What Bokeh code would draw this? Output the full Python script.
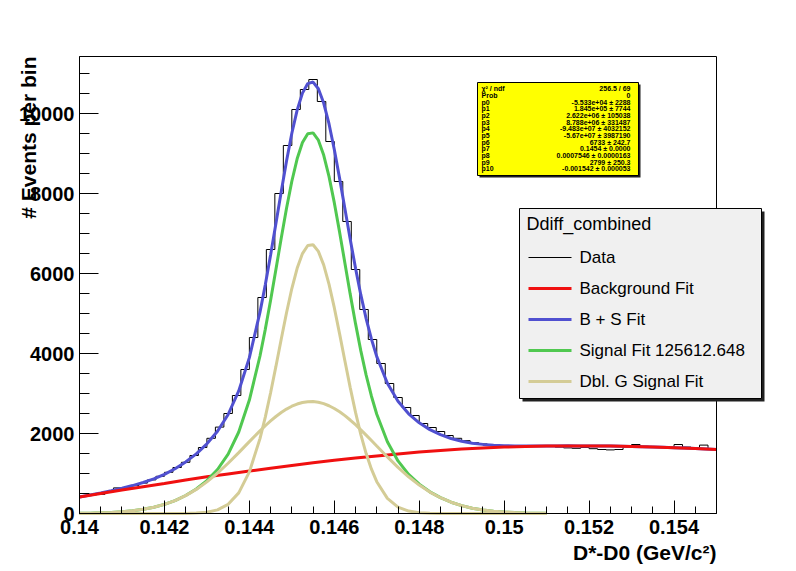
import math
from bokeh.plotting import figure
from bokeh.models import Range1d, FixedTicker, Label, BoxAnnotation, Arrow
from bokeh.embed import file_html
from bokeh.resources import INLINE

# ---------------- data ----------------
hist_lo = 0.14
hist_bin = 0.0002
hist_counts = [430, 470, 480, 540, 640, 650, 700, 760, 840, 930,
               1030, 1150, 1280, 1450, 1650, 1880, 2160, 2500, 2950, 3600,
               4400, 5400, 6600, 8000, 9200, 10100, 10600, 10850, 10300, 9300,
               8300, 7300, 6100, 5100, 4350, 3750, 3250, 2900, 2650, 2450,
               2250, 2150, 2050, 1950, 1880, 1820, 1770, 1740, 1720, 1700,
               1690, 1685, 1690, 1690, 1695, 1680, 1660, 1640, 1630, 1650,
               1620, 1600, 1590, 1600, 1660, 1725, 1680, 1670, 1660, 1650,
               1725, 1660, 1640, 1710, 1620]

# fit curves, sampled at steps of curve_step (finer steps around the peak)
curve_lo = 0.14
curve_step = 0.00025
sig_k = list(range(0, 17)) + [17 + 0.5 * j for j in range(23)] + list(range(29, 45))
sig_narrow = [0, 0, 0, 0, 0, 0, 0, 0, 0, 1, 3, 10, 32, 91, 229, 516, 1039,
              1872, 2410, 3018, 3677, 4356, 5019, 5624, 6130, 6498, 6699, 6718, 6552,
              6215, 5735, 5145, 4491, 3812, 3147, 2527, 1973, 1499, 1108, 795,
              378, 161, 61, 21, 6, 2, 0, 0, 0, 0, 0, 0, 0, 0, 0, 0]
sig_wide = [5, 9, 16, 27, 43, 68, 104, 156, 228, 323, 447, 602, 790, 1009, 1256, 1522, 1797,
            2066, 2194, 2314, 2425, 2524, 2611, 2682, 2737, 2776, 2796, 2798, 2781,
            2746, 2694, 2626, 2543, 2446, 2337, 2219, 2092, 1960, 1824, 1687,
            1414, 1154, 918, 711, 536, 394, 282, 196, 133, 88, 57, 36, 22, 13, 8, 4]
sig_total = [5, 9, 16, 27, 43, 68, 104, 156, 228, 324, 450, 612, 822, 1100, 1485, 2038, 2836,
             3938, 4604, 5332, 6102, 6880, 7630, 8306, 8867, 9274, 9495, 9516, 9333,
             8961, 8429, 7771, 7034, 6258, 5484, 4746, 4065, 3459, 2932, 2482,
             1792, 1315, 979, 732, 542, 396, 282, 196, 133, 88, 57, 36, 22, 13, 8, 4]
bs_k = sig_k + list(range(45, 61))
bs_total = [415, 464, 516, 572, 633, 698, 774, 866, 978, 1119, 1290, 1492, 1742, 2055, 2475, 3063, 3896,
            5033, 5716, 6462, 7250, 8045, 8813, 9506, 10085, 10509, 10748, 10786, 10618,
            10261, 9744, 9101, 8378, 7616, 6856, 6131, 5464, 4872, 4359, 3922,
            3257, 2805, 2492, 2267, 2097, 1971, 1875, 1806, 1758, 1728, 1707, 1696, 1690, 1688, 1688, 1689,
            1690, 1691, 1690, 1690, 1688, 1685, 1680, 1675, 1670, 1665, 1655, 1645, 1635, 1625, 1613, 1600]
bkg_lo = 0.14
bkg_step = 0.0005
bkg_fit = [410, 500, 590, 670, 750, 840, 920, 990, 1060, 1130,
           1200, 1270, 1330, 1385, 1440, 1490, 1535, 1575, 1610, 1640,
           1660, 1675, 1685, 1690, 1690, 1685, 1675, 1665, 1645, 1625,
           1600]

x_ticks = [0.14, 0.142, 0.144, 0.146, 0.148, 0.15, 0.152, 0.154]
x_tick_labels = ["0.14", "0.142", "0.144", "0.146", "0.148", "0.15", "0.152", "0.154"]
y_ticks = [0, 2000, 4000, 6000, 8000, 10000]
y_tick_labels = ["0", "2000", "4000", "6000", "8000", "10000"]

stats_names = ["\u03c7\u00b2 / ndf", "Prob", "p0", "p1", "p2", "p3", "p4", "p5",
               "p6", "p7", "p8", "p9", "p10"]
stats_values = ["256.5 / 69", "0", "-5.533e+04 \u00b1 2288", "1.845e+05 \u00b1 7744",
                "2.622e+06 \u00b1 105038", "8.788e+06 \u00b1 331487",
                "-9.483e+07 \u00b1 4032152", "-5.67e+07 \u00b1 3987190",
                "6733 \u00b1 242.7", "0.1454 \u00b1 0.0000",
                "0.0007546 \u00b1 0.0000163", "2799 \u00b1 250.3",
                "-0.001542 \u00b1 0.000053"]

legend_title = "Ddiff_combined"
legend_labels = ["Data", "Background Fit", "B + S Fit", "Signal Fit 125612.648", "Dbl. G Signal Fit"]

# ---------------- styling / layout ----------------
XMIN, XMAX = 0.14, 0.155
YMIN, YMAX = 0, 11425
FONT = "Liberation Sans"
C_BLUE = "#5050d0"
C_RED = "#f01010"
C_GREEN = "#50c850"
C_BEIGE = "#d4cc96"
W, H = 792, 568

# canvas-pixel helpers (axes box: x 79..716, y 56..513)
def dx(px):
    return XMIN + (px - 79) / (716 - 79) * (XMAX - XMIN)

def dy(py):
    return YMIN + (513 - py) / (513 - 56) * (YMAX - YMIN)

p = figure(frame_width=W, frame_height=H,
           x_range=Range1d(dx(0), dx(W)), y_range=Range1d(dy(H), dy(0)),
           output_backend="svg", toolbar_location=None,
           min_border_left=0, min_border_right=0,
           min_border_top=0, min_border_bottom=0)
p.grid.visible = False
p.outline_line_color = None
p.background_fill_color = "white"
p.border_fill_color = "white"

# axes placed on the axes box
p.xaxis.fixed_location = YMIN
p.yaxis.fixed_location = XMIN
p.xaxis.bounds = (XMIN, XMAX)
p.yaxis.bounds = (YMIN, YMAX)
p.xaxis.ticker = FixedTicker(ticks=x_ticks,
                             minor_ticks=[round(XMIN + 0.0005 * i, 4) for i in range(31)])
p.xaxis.major_label_overrides = {t: l for t, l in zip(x_ticks, x_tick_labels)}
p.yaxis.ticker = FixedTicker(ticks=y_ticks, minor_ticks=[500 * i for i in range(23)])
p.yaxis.major_label_overrides = {t: l for t, l in zip(y_ticks, y_tick_labels)}
for ax, tin, mtin, so in ((p.xaxis, 13, 7, 6), (p.yaxis, 19, 10, 5)):
    ax.axis_line_color = "black"
    ax.major_tick_line_color = "black"
    ax.minor_tick_line_color = "black"
    ax.major_tick_in = tin
    ax.major_tick_out = 0
    ax.minor_tick_in = mtin
    ax.minor_tick_out = 0
    ax.major_label_text_font = FONT
    ax.major_label_text_font_style = "bold"
    ax.major_label_text_font_size = "20px"
    ax.major_label_text_color = "black"
    ax.major_label_standoff = so

# histogram
edges = [hist_lo + hist_bin * i for i in range(len(hist_counts) + 1)]
p.step(x=edges, y=hist_counts + [hist_counts[-1]], mode="after",
       line_color="black", line_width=1)

# fits
cx_sig = [curve_lo + curve_step * k for k in sig_k]
cx_bs = [curve_lo + curve_step * k for k in bs_k]
cx_bkg = [bkg_lo + bkg_step * i for i in range(len(bkg_fit))]
p.line(cx_bs, bs_total, line_color=C_BLUE, line_width=3)
p.line(cx_bkg, bkg_fit, line_color=C_RED, line_width=3)
p.line(cx_sig, sig_total, line_color=C_GREEN, line_width=3)
p.line(cx_sig, sig_wide, line_color=C_BEIGE, line_width=3)
p.line(cx_sig, sig_narrow, line_color=C_BEIGE, line_width=3)

# axes box outline
p.add_layout(BoxAnnotation(left=XMIN, right=XMAX, bottom=YMIN, top=YMAX,
                           fill_alpha=0, line_color="black", line_width=1, line_alpha=1))

# axis titles
p.add_layout(Label(x=dx(28), y=dy(56), text="# Events per bin", angle=math.pi / 2,
                   text_align="right", text_baseline="middle", text_font=FONT,
                   text_font_style="bold", text_font_size="21px", text_color="black"))
p.add_layout(Label(x=dx(716), y=dy(552), text="D*-D0 (GeV/c\u00b2)",
                   text_align="right", text_baseline="middle", text_font=FONT,
                   text_font_style="bold", text_font_size="21px", text_color="black"))

# stats box
p.add_layout(BoxAnnotation(left=dx(479), right=dx(640), top=dy(84), bottom=dy(177),
                           fill_color="#202020", fill_alpha=1, line_alpha=0))
p.add_layout(BoxAnnotation(left=dx(477), right=dx(638), top=dy(82), bottom=dy(175),
                           fill_color="#ffff00", fill_alpha=1, line_color="black",
                           line_width=1, line_alpha=1))
n = len(stats_names)
for i, (nm, vl) in enumerate(zip(stats_names, stats_values)):
    yy = dy(88.3 + i * (80.0 / (n - 1)))
    p.add_layout(Label(x=dx(481), y=yy, text=nm, text_align="left", text_baseline="middle",
                       text_font=FONT, text_font_style="bold", text_font_size="7px",
                       text_color="black"))
    p.add_layout(Label(x=dx(630), y=yy, text=vl, text_align="right", text_baseline="middle",
                       text_font=FONT, text_font_style="bold", text_font_size="7px",
                       text_color="black"))

# legend
p.add_layout(BoxAnnotation(left=dx(522), right=dx(764), top=dy(211), bottom=dy(401),
                           fill_color="#202020", fill_alpha=1, line_alpha=0))
p.add_layout(BoxAnnotation(left=dx(519), right=dx(761), top=dy(208), bottom=dy(398),
                           fill_color="#f0f0f0", fill_alpha=1, line_color="black",
                           line_width=1, line_alpha=1))
p.add_layout(Label(x=dx(526), y=dy(223), text=legend_title, text_align="left",
                   text_baseline="middle", text_font=FONT, text_font_size="18px",
                   text_color="black"))
leg_colors = ["black", C_RED, C_BLUE, C_GREEN, C_BEIGE]
leg_widths = [1, 3, 3, 3, 3]
leg_rows = [257, 288, 319, 350, 381]
for lab, col, lw, ry in zip(legend_labels, leg_colors, leg_widths, leg_rows):
    p.add_layout(Arrow(end=None, x_start=dx(528), y_start=dy(ry), x_end=dx(571), y_end=dy(ry),
                       line_color=col, line_width=lw))
    p.add_layout(Label(x=dx(579), y=dy(ry), text=lab, text_align="left",
                       text_baseline="middle", text_font=FONT, text_font_size="17px",
                       text_color="black"))

open("out.html", "w").write(file_html(p, INLINE))
